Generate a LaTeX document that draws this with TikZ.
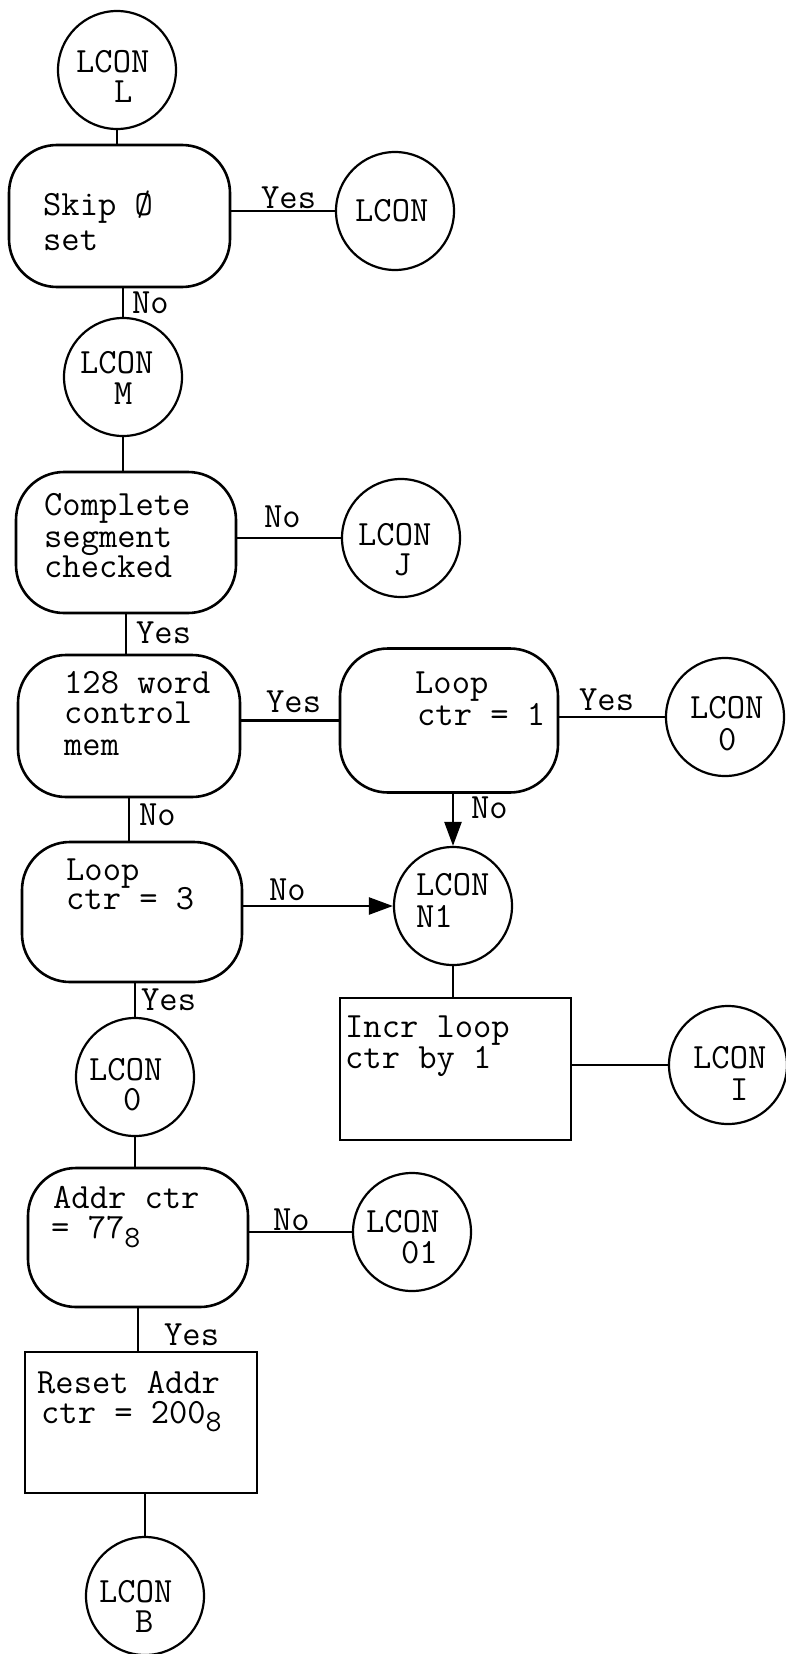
\documentclass[tikz,border=0pt]{standalone}
\usetikzlibrary{arrows.meta}
\begin{document}
\begin{tikzpicture}[x=1pt,y=-1pt,
  every node/.style={font=\fontsize{35.5}{31}\selectfont\ttfamily},
  conn/.style={circle,draw,line width=2.2pt,minimum size=118pt,inner sep=0pt},
  dec/.style={rectangle,rounded corners=48pt,draw,line width=2.6pt,inner sep=0pt},
  proc/.style={rectangle,draw,line width=2.6pt,inner sep=0pt},
  txt/.style={anchor=base west,inner sep=0pt},
  wire/.style={line width=2.4pt},
  arr/.style={wire,-{Triangle[length=24pt,width=17pt]}}]
\fill[white] (0,0) rectangle (785,1654);
\useasboundingbox (0,0) rectangle (785,1654);

% connectors (circles)
\node[conn] (cL) at (117,70) {};
\node[conn] (cY) at (395,211) {};
\node[conn] (cM) at (123,377) {};
\node[conn] (cJ) at (401,538) {};
\node[conn] (cOR) at (725,717) {};
\node[conn] (cN) at (453,906) {};
\node[conn] (cOL) at (135,1077) {};
\node[conn] (cI) at (728,1065) {};
\node[conn] (c01) at (412,1232) {};
\node[conn] (cB) at (145,1596) {};

% boxes
\node[dec,minimum width=221pt,minimum height=142pt] (skip) at (119.5,216) {};
\node[dec,minimum width=220pt,minimum height=141pt] (comp) at (126,542.5) {};
\node[dec,minimum width=222pt,minimum height=142pt] (mem) at (129,726) {};
\node[dec,minimum width=218pt,minimum height=144pt] (loopA) at (449,720.5) {};
\node[dec,minimum width=220pt,minimum height=140pt] (loopB) at (132,912) {};
\node[dec,minimum width=220pt,minimum height=139pt] (addr) at (138,1237.5) {};
\node[proc,minimum width=231pt,minimum height=142pt] (incr) at (455.5,1069) {};
\node[proc,minimum width=232pt,minimum height=141pt] (reset) at (141,1422.5) {};

% circle texts
\node[txt] (tL1) at (76,72) {LCON};
\node[txt] (tL2) at (114,102) {L};
\node[txt] (tY1) at (355,221) {LCON};
\node[txt] (tM1) at (80,373) {LCON};
\node[txt] (tM2) at (114,404) {M};
\node[txt] (tJ1) at (358,545) {LCON};
\node[txt] (tJ2) at (393,575) {J};
\node[txt] (tOR1) at (690,718) {LCON};
\node[txt] (tOR2) at (718,750) {0};
\node[txt] (tN1) at (416,895) {LCON};
\node[txt] (tN2) at (416,927) {N1};
\node[txt] (tOL1) at (89,1080) {LCON};
\node[txt] (tOL2) at (123,1110) {0};
\node[txt] (t011) at (366,1232) {LCON};
\node[txt] (t012) at (401,1263) {01};
\node[txt] (tI1) at (693,1068) {LCON};
\node[txt] (tI2) at (730,1100) {I};
\node[txt] (tB1) at (99,1602) {LCON};
\node[txt] (tB2) at (135,1632) {B};

% box texts
\node[txt] (ts1) at (43,215) {Skip Ø};
\node[txt] (ts2) at (43,250) {set};
\node[txt] (tc1) at (44,515) {Complete};
\node[txt] (tc2) at (44,547) {segment};
\node[txt] (tc3) at (44,577) {checked};
\node[txt] (tm1) at (64,693) {128 word};
\node[txt] (tm2) at (64,723) {control};
\node[txt] (tm3) at (64,755) {mem};
\node[txt] (ta1) at (415,693) {Loop};
\node[txt] (ta2) at (417,725) {ctr = 1};
\node[txt] (tb1) at (66,880) {Loop};
\node[txt] (tb2) at (66,909) {ctr = 3};
\node[txt] (tr1) at (345,1037) {Incr loop};
\node[txt] (tr2) at (345,1068) {ctr by 1};
\node[txt] (td1) at (53,1208) {Addr ctr};
\node[txt] (td2) at (51,1238) {= 77\raisebox{-9pt}{\fontsize{31}{31}\selectfont 8}};
\node[txt] (te1) at (37,1393) {Reset Addr};
\node[txt] (te2) at (41,1423) {ctr = 200\raisebox{-8pt}{\fontsize{31}{31}\selectfont 8}};

% branch labels
\node[txt] (y1) at (261,208) {Yes};
\node[txt] (n1) at (132,313) {No};
\node[txt] (n2) at (264,527) {No};
\node[txt] (y2) at (136,643) {Yes};
\node[txt] (y3) at (266,712) {Yes};
\node[txt] (y4) at (579,710) {Yes};
\node[txt] (n3) at (139,825) {No};
\node[txt] (n4) at (471,818) {No};
\node[txt] (n5) at (269,900) {No};
\node[txt] (y5) at (141,1010) {Yes};
\node[txt] (n6) at (273,1230) {No};
\node[txt] (y6) at (164,1345) {Yes};

% wires
\draw[wire] (cL.south) -- (cL.south |- skip.north);
\draw[wire] (skip.east |- cY.west) -- (cY.west);
\draw[wire] (cM.north |- skip.south) -- (cM.north);
\draw[wire] (cM.south) -- (cM.south |- comp.north);
\draw[wire] (comp.east |- cJ.west) -- (cJ.west);
\draw[wire] (comp.south) -- (comp.south |- mem.north);
\draw[wire] (mem.east |- loopA.west) -- (loopA.west);
\draw[wire] (loopA.east |- cOR.west) -- (cOR.west);
\draw[arr] (cN.north |- loopA.south) -- (cN.north);
\draw[wire] (mem.south) -- (mem.south |- loopB.north);
\draw[arr] (loopB.east |- cN.west) -- (cN.west);
\draw[wire] (cN.south) -- (cN.south |- incr.north);
\draw[wire] (cOL.north |- loopB.south) -- (cOL.north);
\draw[wire] (incr.east |- cI.west) -- (cI.west);
\draw[wire] (cOL.south) -- (cOL.south |- addr.north);
\draw[wire] (addr.east |- c01.west) -- (c01.west);
\draw[wire] (addr.south) -- (addr.south |- reset.north);
\draw[wire] (cB.north |- reset.south) -- (cB.north);
\end{tikzpicture}
\end{document}
